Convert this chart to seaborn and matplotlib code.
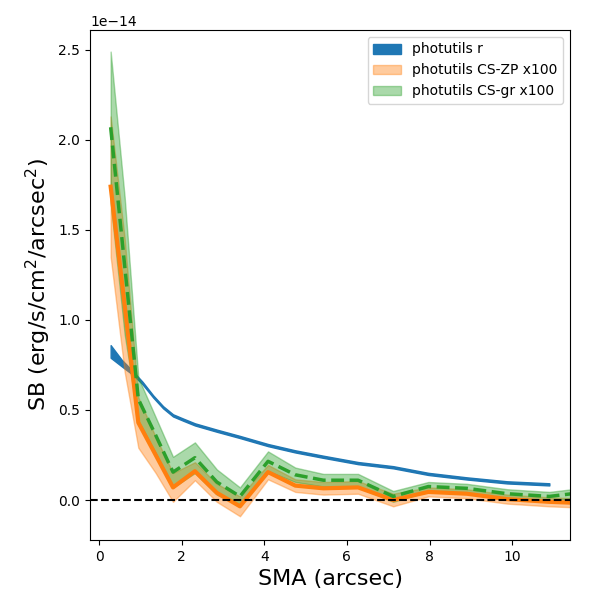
import numpy as np
import pandas as pd
import matplotlib
matplotlib.use("Agg")
import matplotlib.pyplot as plt
import seaborn as sns

scale = 1e-14

# photutils r profile
sma_r = [0.28, 0.55, 0.82, 1.05, 1.31, 1.55, 1.79, 2.05, 2.32, 2.85, 3.41, 4.09,
         4.75, 5.43, 6.27, 7.12, 7.97, 8.9, 9.88, 10.9]
sb_r = [0.825, 0.76, 0.705, 0.65, 0.575, 0.515, 0.47, 0.445, 0.42, 0.385, 0.35, 0.305,
        0.27, 0.24, 0.205, 0.182, 0.145, 0.12, 0.098, 0.087]
err_r = [0.035, 0.018, 0.01, 0.007, 0.006, 0.006, 0.006, 0.006, 0.006, 0.006, 0.006, 0.006,
         0.006, 0.006, 0.006, 0.006, 0.006, 0.006, 0.006, 0.006]

# CS profiles (x100)
sma_cs = [0.28, 0.62, 0.95, 1.37, 1.79, 2.32, 2.85, 3.41, 4.09, 4.75, 5.43, 6.27,
          7.12, 7.97, 8.9, 9.88, 10.9, 12.0]
sb_zp = [1.74, 1.08, 0.43, 0.25, 0.07, 0.16, 0.04, -0.035, 0.155, 0.08, 0.065, 0.07,
         0.0, 0.045, 0.035, 0.005, -0.01, -0.02]
err_zp = [0.39, 0.37, 0.14, 0.10, 0.08, 0.05, 0.05, 0.055, 0.04, 0.035, 0.035, 0.035,
          0.035, 0.025, 0.025, 0.025, 0.025, 0.025]
sb_gr = [2.07, 1.30, 0.56, 0.36, 0.155, 0.235, 0.10, 0.02, 0.215, 0.14, 0.11, 0.11,
         0.02, 0.075, 0.065, 0.035, 0.02, 0.05]
err_gr = [0.42, 0.38, 0.12, 0.10, 0.085, 0.085, 0.07, 0.05, 0.055, 0.04, 0.035, 0.035,
          0.03, 0.025, 0.025, 0.025, 0.025, 0.025]

labels = ["photutils r", "photutils CS-ZP x100", "photutils CS-gr x100"]

r = pd.DataFrame({"sma": sma_r, "sb": np.array(sb_r) * scale, "err": np.array(err_r) * scale})
cs = pd.DataFrame({"sma": sma_cs,
                   "zp": np.array(sb_zp) * scale, "ezp": np.array(err_zp) * scale,
                   "gr": np.array(sb_gr) * scale, "egr": np.array(err_gr) * scale})

fig = plt.figure(figsize=(6, 6), dpi=100)
ax = fig.add_axes([0.15, 0.1, 0.8, 0.85])

ax.fill_between(r["sma"], r["sb"] - r["err"], r["sb"] + r["err"], color="C0",
                label=labels[0], lw=1)
ax.fill_between(cs["sma"], cs["zp"] - cs["ezp"], cs["zp"] + cs["ezp"], color="C1",
                alpha=0.4, lw=1, label=labels[1])
sns.lineplot(data=cs, x="sma", y="zp", ax=ax, color="C1", lw=3, sort=False,
             estimator=None)
ax.fill_between(cs["sma"], cs["gr"] - cs["egr"], cs["gr"] + cs["egr"], color="C2",
                alpha=0.4, lw=1, label=labels[2])
sns.lineplot(data=cs, x="sma", y="gr", ax=ax, color="C2", lw=2.5, ls="--",
             sort=False, estimator=None)

ax.axhline(0, color="black", ls="--", lw=1.5)

ax.set_xlim(-0.22, 11.4)
ax.set_ylim(-0.222 * scale, 2.61 * scale)
ax.set_xlabel("SMA (arcsec)", fontsize=16)
ax.set_ylabel("SB (erg/s/cm$^2$/arcsec$^2$)", fontsize=16)
ax.legend(loc="upper right", fontsize=10)

fig.savefig("out.png", dpi=100)
